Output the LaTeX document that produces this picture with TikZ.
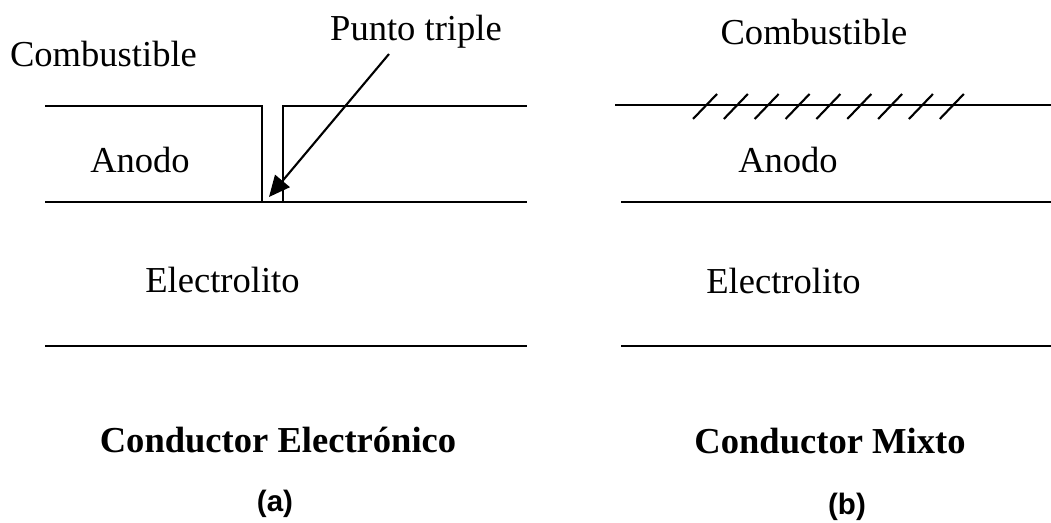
\documentclass[tikz,border=0pt]{standalone}
\usepackage{fontspec}
\setmainfont{Liberation Serif}
\setsansfont{Liberation Sans}
\usetikzlibrary{arrows.meta}

\begin{document}
\begin{tikzpicture}[x=1cm,y=1cm,
  lbl/.style={anchor=base,inner sep=0pt,font=\fontsize{20.8pt}{24pt}\selectfont},
  ttl/.style={lbl,font=\fontsize{20.8pt}{24pt}\selectfont\bfseries},
  sub/.style={anchor=base,inner sep=0pt,font=\fontsize{16.8pt}{20pt}\selectfont\sffamily\bfseries},
  layer/.style={line width=1.2pt}]
  \useasboundingbox (0,0) rectangle (21.02,10.46);
  % (a) electronic conductor
  \draw[layer] (0.90,8.34) -- (5.24,8.34) -- (5.24,6.42);
  \draw[layer] (5.66,6.42) -- (5.66,8.34) -- (10.54,8.34);
  \draw[layer] (0.90,6.42) -- (10.54,6.42);
  \draw[layer] (0.90,3.54) -- (10.54,3.54);
  \node[lbl] (comba) at (2.07,9.12) {Combustible};
  \node[lbl] (punto) at (8.32,9.64) {Punto triple};
  \node[lbl] (anodoa) at (2.80,7.00) {Anodo};
  \node[lbl] (electroa) at (4.45,4.60) {Electrolito};
  \node[ttl] (conda) at (5.56,1.40) {Conductor Electrónico};
  \node[sub] (laba) at (5.50,0.22) {(a)};
  \coordinate (ptail) at (7.78,9.38);
  \coordinate (ptip) at (5.38,6.52);
  \draw[layer,-{Triangle[length=0.42cm,width=0.38cm]}] (ptail) -- (ptip);
  % (b) mixed conductor
  \draw[layer] (12.30,8.36) -- (21.02,8.36);
  \foreach \i in {0,...,8}
    \draw[layer] (13.86+0.617*\i,8.08) -- ++(0.48,0.50);
  \draw[layer] (12.42,6.42) -- (21.02,6.42);
  \draw[layer] (12.42,3.54) -- (21.02,3.54);
  \node[lbl] (combb) at (16.28,9.56) {Combustible};
  \node[lbl] (anodob) at (15.76,7.00) {Anodo};
  \node[lbl] (electrob) at (15.67,4.58) {Electrolito};
  \node[ttl] (condb) at (16.60,1.38) {Conductor Mixto};
  \node[sub] (labb) at (16.94,0.16) {(b)};
\end{tikzpicture}
\end{document}
